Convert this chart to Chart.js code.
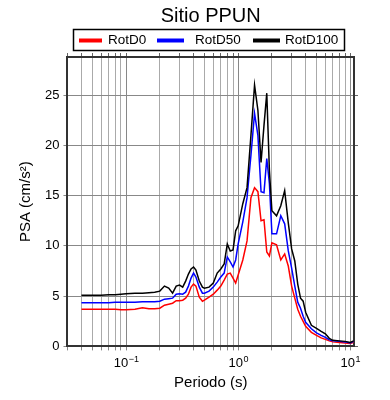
<!DOCTYPE html>
<html>
<head>
<meta charset="utf-8">
<script src="https://cdn.jsdelivr.net/npm/chart.js@4.4.1/dist/chart.umd.min.js"></script>
<style>
    html, body { margin: 0; padding: 0; background: #fff; }
    #wrap { width: 390px; height: 400px; }
</style>
</head>
<body>
<div id="wrap"><canvas id="cv" width="390" height="400"></canvas></div>
<script>
// periodos (s)
var periods = [0.04, 0.05, 0.06, 0.07, 0.08, 0.09, 0.1, 0.12, 0.14, 0.16, 0.18, 0.2, 0.22, 0.24, 0.26, 0.28,
    0.3, 0.32, 0.34, 0.36, 0.38, 0.4, 0.42, 0.45, 0.48, 0.5, 0.55, 0.6, 0.65, 0.7, 0.75, 0.8, 0.85, 0.9, 0.95,
    1.0, 1.1, 1.2, 1.3, 1.4, 1.5, 1.6, 1.7, 1.8, 1.9, 2.0, 2.2, 2.4, 2.6, 2.8, 3.0, 3.2, 3.4, 3.6, 3.8, 4.0,
    4.5, 5.0, 5.5, 6.0, 6.5, 7.0, 8.0, 9.0, 10, 10.7]

var rotD0 = [3.7, 3.7, 3.7, 3.7, 3.7, 3.65, 3.65, 3.7, 3.85, 3.75, 3.75, 3.8, 4.1, 4.2, 4.3, 4.55,
    4.55, 4.6, 4.8, 5.2, 5.9, 6.2, 6.0, 4.9, 4.5, 4.6, 4.9, 5.2, 5.6, 6.0, 6.6, 7.2, 7.3, 6.8, 6.3,
    7.1, 8.6, 10.5, 14.8, 15.8, 15.4, 12.5, 12.6, 9.4, 9.0, 10.3, 10.1, 8.6, 9.2, 8.0, 6.0, 4.8, 3.7, 3.0, 2.5, 2.0,
    1.4, 1.1, 0.85, 0.7, 0.55, 0.45, 0.38, 0.33, 0.3, 0.4]

var rotD50 = [4.35, 4.35, 4.35, 4.35, 4.4, 4.4, 4.4, 4.4, 4.45, 4.45, 4.45, 4.5, 4.7, 4.75, 4.8, 5.2,
    5.25, 5.2, 5.4, 6.0, 6.8, 7.3, 6.9, 5.9, 5.3, 5.3, 5.5, 5.9, 6.4, 6.9, 7.3, 8.9, 8.4, 7.9, 8.6,
    10.2, 12.4, 14.8, 19.0, 23.2, 21.0, 15.4, 15.3, 18.7, 16.2, 11.2, 11.2, 13.0, 12.2, 9.5, 7.8, 6.0, 4.4, 3.8, 3.0, 2.4,
    1.75, 1.35, 1.1, 0.9, 0.65, 0.55, 0.5, 0.45, 0.35, 0.5]

var rotD100 = [5.1, 5.1, 5.1, 5.15, 5.15, 5.2, 5.25, 5.3, 5.3, 5.35, 5.4, 5.5, 6.0, 5.8, 5.3, 6.0,
    6.1, 5.9, 6.5, 7.2, 7.7, 7.9, 7.6, 6.5, 5.9, 5.8, 5.9, 6.3, 7.3, 7.7, 8.2, 10.2, 9.5, 9.6, 11.5,
    12.0, 14.2, 15.8, 21.0, 26.0, 23.5, 18.3, 22.0, 25.2, 17.5, 13.5, 13.0, 14.0, 15.5, 12.3, 9.7, 8.5, 6.2, 4.8, 4.5, 3.4,
    2.1, 1.8, 1.5, 1.25, 0.8, 0.6, 0.55, 0.5, 0.4, 0.55]

var seriesNames = ['RotD0', 'RotD50', 'RotD100']
var seriesColors = ['#ff0000', '#0000ff', '#000000']

// ejes
var xMin = 0.03, xMax = 10.8
var yMin = 0, yMax = 28.8
var xGridTicks = [0.03, 0.04, 0.05, 0.06, 0.07, 0.08, 0.09, 0.1, 0.2, 0.3, 0.4, 0.5, 0.6, 0.7, 0.8, 0.9,
    1, 2, 3, 4, 5, 6, 7, 8, 9, 10]
var xLabelValues = [0.1, 1, 10]
var xLabelExps = ['\u22121', '0', '1']
var yTickValues = [0, 5, 10, 15, 20, 25]

var FONT = '"Liberation Sans", Arial, Helvetica, sans-serif'

var fnPoints = (vals) => vals.map((v, i) => ({ x: periods[i], y: v }))
var fnSetXTicks = (scale) => {
    scale.ticks = xGridTicks.map(v => ({ value: v, major: xLabelValues.indexOf(v) >= 0 }))
}

var decorPlugin = {
    id: 'decor',
    afterDraw: (chart) => {
        var ctx = chart.ctx
        var area = chart.chartArea
        var sx = chart.scales.x
        ctx.save()
        // titulo
        ctx.fillStyle = '#000'
        ctx.font = '20px ' + FONT
        ctx.textAlign = 'center'
        ctx.textBaseline = 'alphabetic'
        ctx.fillText('Sitio PPUN', (area.left + area.right) / 2, 22)

        // leyenda
        ctx.lineWidth = 1.5
        ctx.strokeStyle = '#000'
        ctx.strokeRect(73.5, 29.5, 271, 21)
        var legendItems = [
            { x0: 79, x1: 102, tx: 108 },
            { x0: 157, x1: 184, tx: 195 },
            { x0: 253, x1: 280, tx: 285 }
        ]
        ctx.font = '13.5px ' + FONT
        ctx.textAlign = 'left'
        chart.data.datasets.forEach((ds, i) => {
            var it = legendItems[i]
            ctx.strokeStyle = ds.borderColor
            ctx.lineWidth = 4
            ctx.beginPath()
            ctx.moveTo(it.x0, 40.5)
            ctx.lineTo(it.x1, 40.5)
            ctx.stroke()
            ctx.fillStyle = '#000'
            ctx.fillText(ds.label, it.tx, 43.5)
        })

        // etiquetas 10^n
        xLabelValues.forEach((v, i) => {
            var px = sx.getPixelForValue(v)
            ctx.font = '13px ' + FONT
            var w1 = ctx.measureText('10').width
            ctx.font = '9px ' + FONT
            var w2 = ctx.measureText(xLabelExps[i]).width
            var start = px - (w1 + w2) / 2
            ctx.fillStyle = '#000'
            ctx.font = '13px ' + FONT
            ctx.fillText('10', start, 367)
            ctx.font = '9px ' + FONT
            ctx.fillText(xLabelExps[i], start + w1 + 0.5, 362)
        })
        ctx.restore()
    }
}

var ctxC = document.getElementById('cv').getContext('2d')
var chart = new Chart(ctxC, {
    type: 'line',
    data: {
        datasets: [
            { label: seriesNames[0], data: fnPoints(rotD0), borderColor: seriesColors[0], order: 2 },
            { label: seriesNames[1], data: fnPoints(rotD50), borderColor: seriesColors[1], order: 1 },
            { label: seriesNames[2], data: fnPoints(rotD100), borderColor: seriesColors[2], order: 0 }
        ]
    },
    options: {
        responsive: false,
        animation: false,
        devicePixelRatio: 1,
        layout: { padding: { top: 53, left: 17, right: 32, bottom: 6 } },
        elements: {
            line: { borderWidth: 1.5, tension: 0, fill: false },
            point: { radius: 0 }
        },
        plugins: {
            legend: { display: false },
            title: { display: false },
            tooltip: { enabled: false }
        },
        scales: {
            x: {
                type: 'logarithmic',
                position: 'bottom',
                min: xMin,
                max: xMax,
                afterBuildTicks: fnSetXTicks,
                border: { color: '#333', width: 2 },
                grid: {
                    color: (c) => c.tick && c.tick.major ? '#888' : '#aaa',
                    tickColor: '#888',
                    tickLength: 4
                },
                ticks: {
                    autoSkip: false,
                    maxRotation: 0,
                    color: 'rgba(0,0,0,0)',
                    font: { family: FONT, size: 13 },
                    callback: (v) => xLabelValues.indexOf(v) >= 0 ? '10' : ''
                },
                title: {
                    display: true,
                    text: 'Periodo (s)',
                    color: '#000',
                    font: { family: FONT, size: 15 },
                    padding: { top: 2, bottom: 2 }
                }
            },
            xTop: {
                type: 'logarithmic',
                position: 'top',
                min: xMin,
                max: xMax,
                afterBuildTicks: fnSetXTicks,
                border: { color: '#333', width: 2 },
                grid: { drawOnChartArea: false, tickColor: '#666', tickLength: 4 },
                ticks: { display: false }
            },
            y: {
                type: 'linear',
                position: 'left',
                min: yMin,
                max: yMax,
                afterBuildTicks: (scale) => { scale.ticks = yTickValues.map(v => ({ value: v })) },
                border: { color: '#333', width: 2 },
                grid: { color: '#888', tickColor: '#888', tickLength: 4 },
                ticks: {
                    color: '#000',
                    padding: 4,
                    font: { family: FONT, size: 13 }
                },
                title: {
                    display: true,
                    text: 'PSA (cm/s²)',
                    color: '#000',
                    font: { family: FONT, size: 15 },
                    padding: { top: 0, bottom: 6 }
                }
            },
            yRight: {
                type: 'linear',
                position: 'right',
                min: yMin,
                max: yMax,
                afterBuildTicks: (scale) => { scale.ticks = yTickValues.map(v => ({ value: v })) },
                border: { color: '#333', width: 2 },
                grid: { drawOnChartArea: false, tickColor: '#666', tickLength: 4 },
                ticks: { display: false }
            }
        }
    },
    plugins: [decorPlugin]
})
</script>
</body>
</html>
